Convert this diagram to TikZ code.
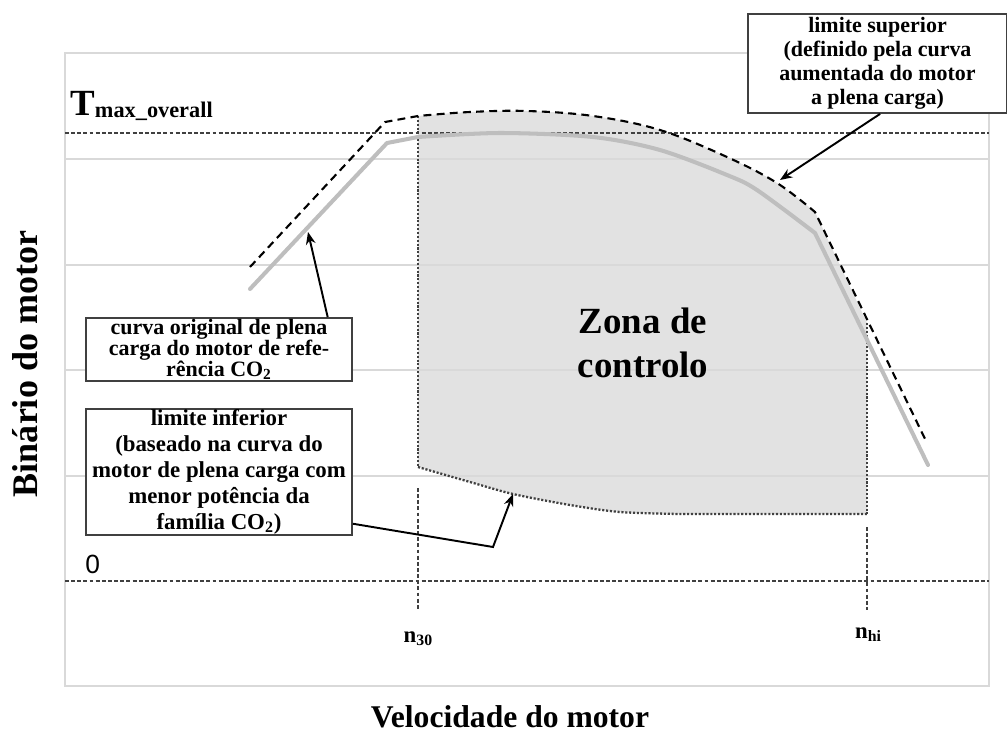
\documentclass[tikz,border=0pt]{standalone}
\usepackage{fontspec}
\setmainfont{Liberation Serif}
\newfontfamily\axisnum{Liberation Sans}
\usepackage{tikz}
\definecolor{gridgray}{RGB}{217,217,217}
\definecolor{zonegray}{RGB}{226,226,226}
\definecolor{curvegray}{RGB}{190,190,190}
\usetikzlibrary{arrows.meta, positioning, calc}

\begin{document}
\begin{tikzpicture}[
        x=0.02cm, y=-0.02cm,
        gridline/.style={draw=gridgray, line width=1.1pt},
        refline/.style={draw=black!75, dash pattern=on 2.2pt off 1.3pt, line width=0.7pt},
        upperline/.style={draw=black, dash pattern=on 4.5pt off 3pt, line width=1.2pt},
        origline/.style={draw=curvegray, line width=2.3pt, line join=round, line cap=round},
        lowerline/.style={draw=black!75, dash pattern=on 1.2pt off 1pt, line width=1.3pt},
        callout/.style={rectangle, draw=black!75, line width=1pt, fill=white, inner sep=0pt, align=center},
        pointer/.style={-{Stealth[length=7pt, width=5.5pt]}, line width=1.1pt}
    ]
        \useasboundingbox (0,0) rectangle (1007,734);
        \fill[zonegray] plot[smooth, tension=0.6] coordinates {(418,116) (470,112) (527,111) (593,116) (660,130) (727,157) (777,183) (815,212)}
            -- (867,323) -- (867,514) -- (680,514)
            -- plot[smooth] coordinates {(680,514) (620,512) (570,505) (513,494) (470,482) (418,467)} -- cycle;
        \draw[draw=gridgray, line width=1pt] (65,53) rectangle (989,686);
        \foreach \gy in {159,265,370,476}
            \draw[gridline] (65,\gy) -- (989,\gy);
        \draw[refline] (65,133) -- (989,133);
        \draw[refline] (65,581) -- (989,581);
        \draw[refline] (418,488) -- (418,610);
        \draw[refline] (867,527) -- (867,610);
        \draw[lowerline] (418,116) -- (418,467);
        \draw[lowerline] (867,323) -- (867,514);
        \draw[lowerline] plot[smooth] coordinates {(418,467) (470,482) (513,494) (570,505) (620,512) (680,514)} -- (867,514);
        \draw[origline] (250,289) -- (387,143) -- plot[smooth] coordinates {(418,137) (500,133) (593,137) (660,150) (727,175) (757,190) (815,233)} -- (928,465);
        \draw[upperline] (250,267) -- (385,122) -- plot[smooth, tension=0.6] coordinates {(418,116) (470,112) (527,111) (593,116) (660,130) (727,157) (777,183) (815,212)} -- (927,443);

        \node[callout, minimum width=5.18cm, minimum height=1.98cm, font=\fontsize{12.5}{13.6}\selectfont\bfseries] (upperbox) at (877.5,63.5) {limite superior\\(definido pela curva\\aumentada do motor\\a plena carga)};
        \node[callout, minimum width=5.32cm, minimum height=1.26cm, font=\fontsize{12.5}{12}\selectfont\bfseries] (origbox) at (219,349.5) {curva original de plena\\carga do motor de refe-\\rência CO\textsubscript{2}};
        \node[callout, minimum width=5.32cm, minimum height=2.52cm, font=\fontsize{13}{14.7}\selectfont\bfseries] (lowerbox) at (219,472) {limite inferior\\(baseado na curva do\\motor de plena carga com\\menor potência da\\família CO\textsubscript{2})};

        \coordinate (uppertip) at (780,180);
        \coordinate (origtip) at (308,232);
        \coordinate (lowerbend) at (493,547);
        \coordinate (lowertip) at (513,494);
        \draw[pointer] ($(upperbox.south west)!0.51!(upperbox.south east)$) -- (uppertip);
        \draw[pointer] ($(origbox.north west)!0.906!(origbox.north east)$) -- (origtip);
        \draw[pointer] ($(lowerbox.north east)!0.905!(lowerbox.south east)$) -- (lowerbend) -- (lowertip);

        \node[anchor=base west, inner sep=0pt, font=\bfseries] (tmax) at (70,115) {\fontsize{21}{21}\selectfont T\raisebox{-1.5pt}{\fontsize{12.7}{13}\selectfont max\_overall}};
        \node[anchor=base west, inner sep=0pt, font=\axisnum\fontsize{15}{15}\selectfont] (zero) at (85,573) {0};
        \node[anchor=base, inner sep=0pt, font=\fontsize{13}{13}\selectfont\bfseries] (nlow) at (418,642) {n\raisebox{-2pt}{\fontsize{9}{9}\selectfont 30}};
        \node[anchor=base, inner sep=0pt, font=\fontsize{13}{13}\selectfont\bfseries] (nhigh) at (868,638) {n\raisebox{-2pt}{\fontsize{9}{9}\selectfont hi}};
        \node[align=center, font=\fontsize{21}{25}\selectfont\bfseries] (zone) at (643,343) {Zona de\\controlo};
        \node[anchor=base, font=\fontsize{18}{18}\selectfont\bfseries] (xlabel) at (510,727) {Velocidade do motor};
        \node[anchor=base, rotate=90, font=\fontsize{20.5}{20.5}\selectfont\bfseries] (ylabel) at (37,364) {Binário do motor};
    \end{tikzpicture}
\end{document}
